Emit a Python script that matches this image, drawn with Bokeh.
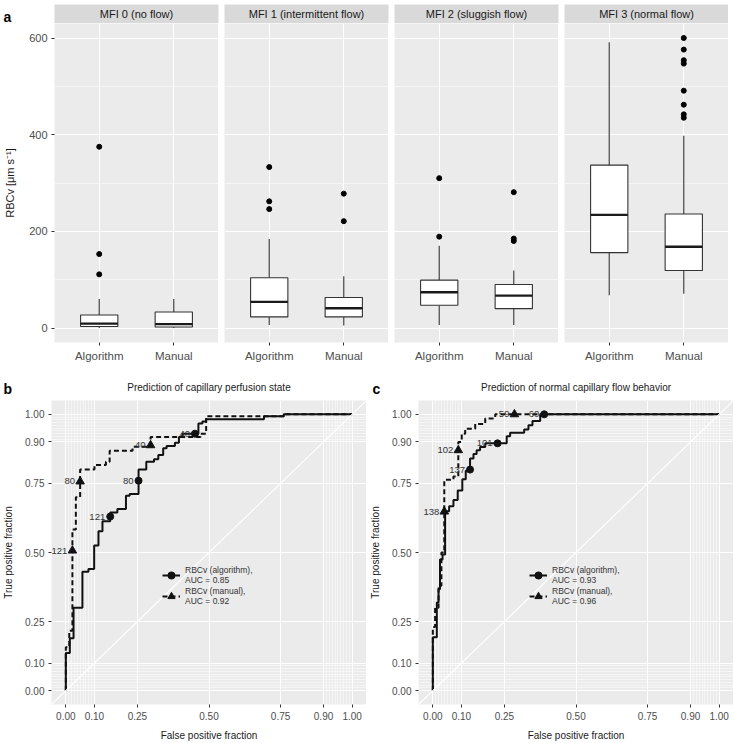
from bokeh.plotting import figure
from bokeh.models import (Range1d, FixedTicker, Label, Legend, LegendItem, Slope, BoxAnnotation,
                          NumeralTickFormatter, ColumnDataSource)
from bokeh.layouts import column, row
from bokeh.core.properties import value
from bokeh.embed import file_html
from bokeh.resources import INLINE

FONT = "Liberation Sans"

# ---------------- Panel a: box plots ----------------
facets = ["MFI 0 (no flow)", "MFI 1 (intermittent flow)", "MFI 2 (sluggish flow)", "MFI 3 (normal flow)"]
methods = ["Algorithm", "Manual"]
whisker_low = [[0, 0], [6, 5], [6, 6], [68, 71]]
q1 = [[3, 2], [23, 23], [47, 40], [156, 119]]
median = [[9, 8], [54, 41], [74, 67], [234, 168]]
q3 = [[27, 33], [104, 63], [99, 90], [337, 236]]
whisker_high = [[60, 60], [184, 107], [170, 119], [591, 398]]
outliers = [
    [[111, 153, 375], []],
    [[246, 262, 333], [221, 278]],
    [[189, 310], [180, 185, 281]],
    [[], [435, 442, 462, 491, 547, 554, 576, 600]],
]
rbcv_ticks = [0, 200, 400, 600]
rbcv_minor = [100, 300, 500]
y_title_a = "RBCv [μm s⁻¹]"

# ---------------- Panels b, c: ROC curves ----------------
roc_breaks = [0, 0.1, 0.25, 0.5, 0.75, 0.9, 1.0]
roc_titles = ["Prediction of capillary perfusion state", "Prediction of normal capillary flow behavior"]
panel_letters = ["a", "b", "c"]
series_names = ["algorithm", "manual"]
auc_b = [0.85, 0.92]
auc_c = [0.93, 0.96]

b_alg_curve = [(0, 0), (0, 0.136), (0.014, 0.136), (0.014, 0.19), (0.027, 0.19), (0.027, 0.30),
               (0.058, 0.30), (0.058, 0.43), (0.079, 0.43), (0.079, 0.44), (0.099, 0.44), (0.099, 0.525),
               (0.114, 0.525), (0.114, 0.577), (0.128, 0.577), (0.128, 0.613), (0.155, 0.613), (0.155, 0.645),
               (0.18, 0.645), (0.18, 0.657), (0.21, 0.657), (0.21, 0.705), (0.223, 0.705), (0.223, 0.712),
               (0.254, 0.712), (0.254, 0.80), (0.281, 0.80), (0.281, 0.828), (0.308, 0.828), (0.308, 0.837),
               (0.323, 0.837), (0.323, 0.853), (0.34, 0.853), (0.34, 0.877), (0.352, 0.877), (0.352, 0.885),
               (0.381, 0.885), (0.381, 0.897), (0.395, 0.897), (0.395, 0.918), (0.407, 0.918), (0.407, 0.93),
               (0.463, 0.93), (0.463, 0.967), (0.477, 0.967), (0.477, 0.974), (0.49, 0.974), (0.49, 0.982),
               (0.692, 0.982), (0.692, 0.993), (0.761, 0.993), (0.761, 1.0), (1.0, 1.0)]
b_man_curve = [(0, 0), (0, 0.157), (0.012, 0.157), (0.012, 0.217), (0.023, 0.217), (0.023, 0.583),
               (0.035, 0.583), (0.035, 0.70), (0.05, 0.70), (0.05, 0.80), (0.10, 0.80), (0.10, 0.817),
               (0.14, 0.817), (0.14, 0.828), (0.153, 0.828), (0.153, 0.868), (0.233, 0.868), (0.233, 0.883),
               (0.296, 0.883), (0.296, 0.918), (0.47, 0.918), (0.47, 0.93), (0.49, 0.93), (0.49, 0.993),
               (0.761, 0.993), (0.761, 1.0), (1.0, 1.0)]
b_alg_cuts = [(0.155, 0.63, "121"), (0.254, 0.76, "80"), (0.451, 0.93, "40")]
b_man_cuts = [(0.023, 0.507, "121"), (0.05, 0.757, "80"), (0.296, 0.888, "40")]

c_alg_curve = [(0, 0), (0, 0.193), (0.014, 0.193), (0.014, 0.319), (0.02, 0.319), (0.02, 0.367),
               (0.025, 0.367), (0.025, 0.475), (0.034, 0.475), (0.034, 0.493), (0.043, 0.493), (0.043, 0.649),
               (0.057, 0.649), (0.057, 0.667), (0.072, 0.667), (0.072, 0.69), (0.087, 0.69), (0.087, 0.724),
               (0.103, 0.724), (0.103, 0.765), (0.115, 0.765), (0.115, 0.796), (0.13, 0.796), (0.13, 0.84),
               (0.142, 0.84), (0.142, 0.856), (0.153, 0.856), (0.153, 0.87), (0.165, 0.87), (0.165, 0.882),
               (0.183, 0.882), (0.183, 0.895), (0.258, 0.895), (0.258, 0.921), (0.27, 0.921), (0.27, 0.933),
               (0.319, 0.933), (0.319, 0.945), (0.334, 0.945), (0.334, 0.96), (0.348, 0.96), (0.348, 0.976),
               (0.375, 0.976), (0.375, 1.0), (1.0, 1.0)]
c_man_curve = [(0, 0), (0, 0.23), (0.008, 0.23), (0.008, 0.30), (0.02, 0.30), (0.02, 0.38),
               (0.03, 0.38), (0.03, 0.50), (0.04, 0.50), (0.04, 0.763), (0.072, 0.763), (0.072, 0.775),
               (0.089, 0.775), (0.089, 0.90), (0.101, 0.90), (0.101, 0.93), (0.113, 0.93), (0.113, 0.948),
               (0.148, 0.948), (0.148, 0.965), (0.183, 0.965), (0.183, 0.985), (0.218, 0.985), (0.218, 1.0),
               (1.0, 1.0)]
c_alg_cuts = [(0.13, 0.80, "137"), (0.226, 0.895, "101"), (0.389, 1.0, "60")]
c_man_cuts = [(0.04, 0.648, "138"), (0.089, 0.87, "102"), (0.285, 1.0, "59")]


def style_axes(p, fs):
    for ax in p.axis:
        ax.axis_line_color = None
        ax.major_tick_line_color = "#333333"
        ax.major_tick_in = 0
        ax.major_tick_out = 3
        ax.minor_tick_line_color = None
        ax.major_label_text_color = "#4d4d4d"
        ax.major_label_text_font = FONT
        ax.major_label_text_font_size = fs
        ax.major_label_standoff = 3
        ax.axis_label_text_font = FONT
        ax.axis_label_text_font_style = "normal"
        ax.axis_label_text_color = "#1a1a1a"


def blank_fig(width, height):
    return figure(width=width, height=height, x_range=Range1d(0, 1), y_range=Range1d(0, 1),
                  x_axis_type=None, y_axis_type=None, output_backend="svg", toolbar_location=None,
                  min_border_left=0, min_border_right=0, min_border_top=0, min_border_bottom=0,
                  background_fill_color="white", outline_line_color=None)


# ---------- build panel a ----------
LEFT_A, FRAME_A, GAP = 54, 164, 6
STRIP_TOP, STRIP_H = 4, 19
FRAME_H_A, BOTTOM_A = 319, 23
BOX_W = 0.5
xs = [j + 1 for j in range(len(methods))]
all_vals = [v for f in whisker_low for v in f] + [v for f in outliers for m in f for v in m] + \
           [v for f in whisker_high for v in f]
lo_v, hi_v = min(all_vals), max(all_vals)
pad = 0.05 * (hi_v - lo_v)

W1 = LEFT_A + len(facets) * FRAME_A + (len(facets) - 1) * GAP
strip = blank_fig(W1, STRIP_TOP + STRIP_H)
strip.add_layout(Label(x=3, y=STRIP_H - 12, x_units="screen", y_units="screen", text=panel_letters[0],
                       text_font=FONT, text_font_size="14px", text_font_style="bold",
                       text_color="black", text_baseline="alphabetic"))

mains = []
x_left = LEFT_A
for i, facet in enumerate(facets):
    strip.add_layout(BoxAnnotation(left=x_left, right=x_left + FRAME_A, top=STRIP_H, left_units="screen",
                                   right_units="screen", top_units="screen", fill_color="#d9d9d9",
                                   fill_alpha=1, line_color=None))
    strip.add_layout(Label(x=x_left + FRAME_A / 2, y=STRIP_H / 2, x_units="screen", y_units="screen",
                           text=facet, text_align="center", text_baseline="middle",
                           text_font=FONT, text_font_size="11px", text_color="#1a1a1a"))
    x_left += FRAME_A + GAP

    left = LEFT_A if i == 0 else GAP
    p = figure(width=left + FRAME_A, height=FRAME_H_A + BOTTOM_A,
               x_range=Range1d(0.4, len(methods) + 0.6), y_range=Range1d(lo_v - pad, hi_v + pad),
               output_backend="svg", toolbar_location=None,
               min_border_left=left, min_border_right=0, min_border_top=0, min_border_bottom=BOTTOM_A,
               background_fill_color="#ebebeb", outline_line_color=None)
    xt = FixedTicker(ticks=xs)
    yt = FixedTicker(ticks=rbcv_ticks, minor_ticks=rbcv_minor)
    p.xaxis.ticker = xt
    p.xgrid.ticker = xt
    p.yaxis.ticker = yt
    p.ygrid.ticker = yt
    p.xaxis.major_label_overrides = {x: m for x, m in zip(xs, methods)}
    p.grid.grid_line_color = "white"
    p.grid.grid_line_width = 1.1
    p.ygrid.minor_grid_line_color = "white"
    p.ygrid.minor_grid_line_width = 0.55
    style_axes(p, "11px")
    p.xaxis.major_label_text_font_size = "11.5px"
    p.xaxis.major_label_standoff = 4
    if i == 0:
        p.yaxis.axis_label = y_title_a
        p.yaxis.axis_label_text_font_size = "11px"
        p.yaxis.axis_label_standoff = 10
    else:
        p.yaxis.visible = False

    src = ColumnDataSource(dict(
        x=xs, q1=q1[i], med=median[i], q3=q3[i], lo=whisker_low[i], hi=whisker_high[i],
        x0=[x - BOX_W / 2 for x in xs], x1=[x + BOX_W / 2 for x in xs]))
    p.segment(x0="x", x1="x", y0="lo", y1="q1", source=src, line_color="#333333", line_width=1.1)
    p.segment(x0="x", x1="x", y0="q3", y1="hi", source=src, line_color="#333333", line_width=1.1)
    p.vbar(x="x", width=BOX_W, bottom="q1", top="q3", source=src, fill_color="white",
           line_color="#333333", line_width=1.1)
    p.segment(x0="x0", x1="x1", y0="med", y1="med", source=src, line_color="#1a1a1a", line_width=2.4)
    ox = [xs[j] for j in range(len(methods)) for v in outliers[i][j]]
    oy = [v for j in range(len(methods)) for v in outliers[i][j]]
    p.scatter(ox, oy, size=5, color="black")
    mains.append(p)

# ---------- build panels b, c ----------
LEFTS = [51, 52]
FRAME_R = 315
HEADER_H = 30
TOP_R, FRAME_H_R, BOTTOM_R = 5, 306, 37


def roc_panel(alg_curve, man_curve, alg_cuts, man_cuts, aucs, left):
    p = figure(width=left + FRAME_R, height=TOP_R + FRAME_H_R + BOTTOM_R,
               x_range=Range1d(-0.05, 1.05), y_range=Range1d(-0.05, 1.05),
               output_backend="svg", toolbar_location=None,
               min_border_left=left, min_border_right=0, min_border_top=TOP_R, min_border_bottom=BOTTOM_R,
               background_fill_color="#ebebeb", outline_line_color=None)
    minor = [k / 100 for k in range(1, 10)] + [k / 100 for k in range(91, 100)]
    t = FixedTicker(ticks=roc_breaks, minor_ticks=minor)
    for ax in p.axis:
        ax.ticker = t
        ax.formatter = NumeralTickFormatter(format="0.00")
    p.xgrid.ticker = t
    p.ygrid.ticker = t
    p.grid.grid_line_color = "white"
    p.grid.grid_line_width = 1.1
    p.grid.minor_grid_line_color = "white"
    p.grid.minor_grid_line_width = 0.5
    style_axes(p, "10px")
    p.xaxis.axis_label = "False positive fraction"
    p.yaxis.axis_label = "True positive fraction"
    p.xaxis.axis_label_text_font_size = "10px"
    p.yaxis.axis_label_text_font_size = "10px"
    p.xaxis.axis_label_standoff = 7
    p.yaxis.axis_label_standoff = 8
    p.add_layout(Slope(gradient=1, y_intercept=0, line_color="white", line_width=1.1))

    ax_, ay_ = zip(*alg_curve)
    mx_, my_ = zip(*man_curve)
    l1 = p.line(list(ax_), list(ay_), line_color="#111111", line_width=2)
    l2 = p.line(list(mx_), list(my_), line_color="#111111", line_width=2, line_dash="5 3")
    cx, cy, ct = zip(*alg_cuts)
    tx, ty, tt = zip(*man_cuts)
    s1 = p.scatter(list(cx), list(cy), marker="circle", size=7, color="#111111")
    s2 = p.scatter(list(tx), list(ty), marker="triangle", size=8.5, color="#111111")
    for X, Y, T in ((cx, cy, ct), (tx, ty, tt)):
        p.text(x=list(X), y=list(Y), text=list(T), x_offset=-5, y_offset=0, text_align="right",
               text_baseline="middle", text_font=value(FONT), text_font_size="9.5px", text_color="#333333")

    leg = Legend(items=[
        LegendItem(label=f"RBCv ({series_names[0]}),\nAUC = {aucs[0]:.2f}", renderers=[l1, s1]),
        LegendItem(label=f"RBCv ({series_names[1]}),\nAUC = {aucs[1]:.2f}", renderers=[l2, s2]),
    ], location=(111, 98))
    leg.label_text_font = FONT
    leg.label_text_font_size = "8.5px"
    leg.label_text_color = "#333333"
    leg.glyph_width = 18
    leg.glyph_height = 18
    leg.label_standoff = 5
    leg.spacing = 1
    leg.padding = 2
    leg.margin = 0
    leg.border_line_color = None
    leg.background_fill_alpha = 0
    p.add_layout(leg)
    return p


pb = roc_panel(b_alg_curve, b_man_curve, b_alg_cuts, b_man_cuts, auc_b, LEFTS[0])
pc = roc_panel(c_alg_curve, c_man_curve, c_alg_cuts, c_man_cuts, auc_c, LEFTS[1])

# header strip holding the panel letters and titles of b and c
W2 = pb.width + pc.width
hdr = blank_fig(W2, HEADER_H)
offsets = [0, pb.width]
for k in range(2):
    hdr.add_layout(Label(x=offsets[k] + (3 if k == 0 else 6), y=7, x_units="screen", y_units="screen",
                         text=panel_letters[k + 1], text_font=FONT, text_font_size="14px",
                         text_font_style="bold", text_color="black", text_baseline="alphabetic"))
    hdr.add_layout(Label(x=offsets[k] + LEFTS[k] + FRAME_R / 2, y=8, x_units="screen", y_units="screen",
                         text=roc_titles[k], text_font=FONT, text_font_size="10px",
                         text_color="#1a1a1a", text_align="center", text_baseline="middle"))

layout = column(strip, row(*mains), hdr, row(pb, pc))
open("out.html", "w").write(file_html(layout, INLINE))
